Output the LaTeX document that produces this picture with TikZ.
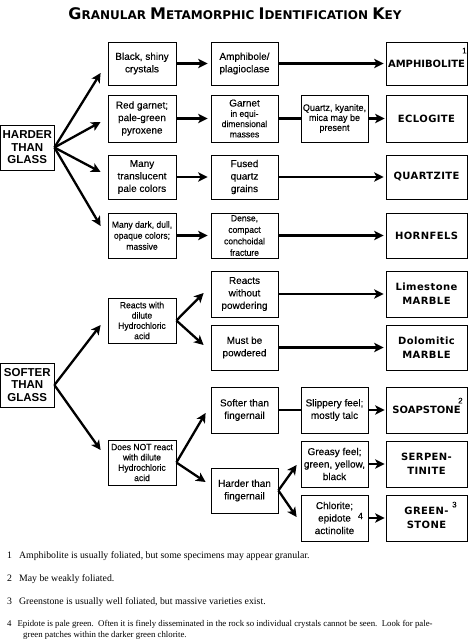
\documentclass[tikz,border=0pt]{standalone}
\usepackage{fontspec}
\setmainfont{Liberation Sans}
\newfontfamily\boxf{Liberation Sans}[FakeBold=0.2]
\newfontfamily\boxn{Liberation Sans}[FakeStretch=0.95,FakeBold=0.2]
\newfontfamily\rockf{DejaVu Sans}[LetterSpace=4]
\newfontfamily\rockt{DejaVu Sans}
\newfontfamily\titlef{DejaVu Sans}
\newfontfamily\notef{Liberation Serif}
\usetikzlibrary{arrows.meta,calc}
\newcommand{\smf}{\boxn\fontsize{9}{10.3}\selectfont}
\newcommand{\nmf}{\boxf\fontsize{10}{12.5}\selectfont}
\begin{document}
\begin{tikzpicture}[x=1pt,y=-1pt,
  box/.style={draw,line width=0.8pt,inner sep=0pt,align=center,font=\nmf},
  smallbox/.style={box,font=\smf},
  hbox/.style={box,font=\fontsize{11.5}{12.5}\selectfont\bfseries},
  rock/.style={box,font=\rockf\bfseries\fontsize{10}{14}\selectfont},
  rockt/.style={box,font=\rockt\bfseries\fontsize{10}{14}\selectfont},
  arr/.style={line width=2.3pt,-{Stealth[length=9.5pt,width=9.5pt,inset=2.5pt]}},
  ln/.style={line width=2.3pt},
  sup/.style={inner sep=0pt,font=\boxf\fontsize{8}{8}\selectfont},
  note/.style={inner sep=0pt,anchor=base west,align=left,font=\notef\fontsize{9.8}{11}\selectfont}]
\useasboundingbox (0,0) rectangle (470,640);
% title
\node[inner sep=0pt,font=\titlef\bfseries] (title) at (235,14)
 {{\fontsize{16}{16}\selectfont G}{\fontsize{12}{12}\selectfont RANULAR }{\fontsize{16}{16}\selectfont M}{\fontsize{12}{12}\selectfont ETAMORPHIC }{\fontsize{16}{16}\selectfont I}{\fontsize{12}{12}\selectfont DENTIFICATION }{\fontsize{16}{16}\selectfont K}{\fontsize{12}{12}\selectfont EY}};
% left boxes
\node[hbox,minimum width=53.5,minimum height=45] (hg) at (27.25,147.5) {HARDER\\THAN\\GLASS};
\node[hbox,minimum width=53.5,minimum height=44] (sg) at (27.25,385) {SOFTER\\THAN\\GLASS};
% harder branch
\node[box,minimum width=68,minimum height=43] (bs) at (142,63.5) {Black, shiny\\crystals};
\node[box,minimum width=67,minimum height=43] (am) at (244.5,63.5) {Amphibole/\\plagioclase};
\node[rockt,minimum width=81,minimum height=43] (amph) at (426.5,63.5) {AMPHIBOLITE};
\node[box,minimum width=68,minimum height=47] (rg) at (142,118.5) {Red garnet;\\pale-green\\pyroxene};
\node[smallbox,minimum width=67,minimum height=47] (ga) at (244.5,118.5) {{\nmf Garnet}\\in equi-\\dimensional\\masses};
\node[smallbox,font=\boxn\fontsize{9.5}{10}\selectfont,minimum width=67,minimum height=47] (qk) at (334.5,118.5) {Quartz, kyanite,\\mica may be\\present};
\node[rock,minimum width=81,minimum height=47] (ec) at (426.5,118.5) {ECLOGITE};
\node[box,minimum width=68,minimum height=44] (mt) at (142,177) {Many\\translucent\\pale colors};
\node[box,minimum width=67,minimum height=44] (fq) at (244.5,177) {Fused\\quartz\\grains};
\node[rock,minimum width=81,minimum height=44] (qz) at (426.5,177) {QUARTZITE};
\node[smallbox,font=\boxn\fontsize{9}{11}\selectfont,minimum width=68,minimum height=45] (md) at (142,235.5) {Many dark, dull,\\opaque colors;\\massive};
\node[smallbox,font=\boxn\fontsize{9}{11.5}\selectfont,minimum width=67,minimum height=45] (dc) at (244.5,235.5) {Dense,\\compact\\conchoidal\\fracture};
\node[rock,minimum width=81,minimum height=45] (hf) at (426.5,235.5) {HORNFELS};
% softer branch
\node[smallbox,minimum width=68,minimum height=45] (rd) at (142,320.5) {Reacts with\\dilute\\Hydrochloric\\acid};
\node[box,minimum width=67,minimum height=46] (rw) at (244.5,294) {Reacts\\without\\powdering};
\node[box,minimum width=67,minimum height=45] (mp) at (244.5,347.5) {Must be\\powdered};
\node[rock,minimum width=81,minimum height=46] (lm) at (426.5,294) {Limestone\\MARBLE};
\node[rock,minimum width=81,minimum height=45] (dm) at (426.5,347.5) {Dolomitic\\MARBLE};
\node[smallbox,minimum width=68,minimum height=45] (dn) at (142,462.5) {Does NOT react\\with dilute\\Hydrochloric\\acid};
\node[box,minimum width=67,minimum height=46] (sf) at (244.5,410) {Softer than\\fingernail};
\node[box,minimum width=67,minimum height=46] (sl) at (334.5,410) {Slippery feel;\\mostly talc};
\node[rockt,minimum width=81,minimum height=46] (sp) at (426.5,410) {SOAPSTONE};
\node[box,minimum width=67,minimum height=45] (hn) at (244.5,490.5) {Harder than\\fingernail};
\node[box,minimum width=67,minimum height=46] (gr) at (334.5,464) {Greasy feel;\\green, yellow,\\black};
\node[box,minimum width=67,minimum height=46,text width=60,align=center] (ch) at (334.5,518) {Chlorite;\\epidote\\actinolite};
\node[rock,minimum width=81,minimum height=46] (gs) at (426.5,518) {GREEN-\\STONE};
\node[rock,minimum width=81,minimum height=46] (se) at (426.5,464) {SERPEN-\\TINITE};
% superscripts
\node[sup] (n1) at ($(amph.north east)+(-3,9)$) {1};
\node[sup] (n2) at ($(sp.north east)+(-7,14)$) {2};
\node[sup] (n3) at ($(gs.north east)+(-13,10)$) {3};
\node[sup,font=\boxf\fontsize{9}{9}\selectfont] (n4) at ($(ch.east)+(-8,-2)$) {4};
% connectors: harder
\draw[arr] (hg.east) -- ($(bs.west)+(-7,9.5)$);
\draw[arr] (hg.east) -- ($(rg.west)+(-7,3.5)$);
\draw[arr] (hg.east) -- ($(mt.west)+(-7,-5)$);
\draw[arr] (hg.east) -- ($(md.west)+(-7,-9.5)$);
\draw[arr] (bs.east) -- ($(am.west)+(-3,0)$);
\draw[arr] (am.east) -- ($(amph.west)+(-2,0)$);
\draw[arr] (rg.east) -- ($(ga.west)+(-3,0)$);
\draw[ln] (ga.east) -- (qk.west);
\draw[arr] (qk.east) -- ($(ec.west)+(-1,0)$);
\draw[arr] (mt.east) -- ($(fq.west)+(-3,0)$);
\draw[arr] (fq.east) -- ($(qz.west)+(-2,0)$);
\draw[arr] (md.east) -- ($(dc.west)+(-3,0)$);
\draw[arr] (dc.east) -- ($(hf.west)+(-2,0)$);
% connectors: softer
\draw[arr] (sg.east) -- ($(rd.west)+(-7,4.5)$);
\draw[arr] (sg.east) -- ($(dn.west)+(-7,-12.5)$);
\draw[arr] (rd.east) -- ($(rw.west)+(-7,-1)$);
\draw[arr] (rd.east) -- ($(mp.west)+(-7,-2.5)$);
\draw[arr] (rw.east) -- ($(lm.west)+(-2,0)$);
\draw[arr] (mp.east) -- ($(dm.west)+(-2,0)$);
\draw[arr] (dn.east) -- ($(sf.west)+(-5,3)$);
\draw[arr] (dn.east) -- ($(hn.west)+(-5,-8.5)$);
\draw[ln] (sf.east) -- (sl.west);
\draw[arr] (sl.east) -- ($(sp.west)+(-1,0)$);
\draw[arr] (hn.east) -- ($(gr.west)+(-4,1)$);
\draw[arr] (hn.east) -- ($(ch.west)+(-4,-1)$);
\draw[arr] (gr.east) -- ($(se.west)+(-1,0)$);
\draw[arr] (ch.east) -- ($(gs.west)+(-1,0)$);
% footnotes
\node[note] (f1) at (7,558) {1\hspace{7pt}Amphibolite is usually foliated, but some specimens may appear granular.};
\node[note] (f2) at (7,581) {2\hspace{7pt}May be weakly foliated.};
\node[note] (f3) at (7,604) {3\hspace{7pt}Greenstone is usually well foliated, but massive varieties exist.};
\node[note,font=\notef\fontsize{8.8}{11}\selectfont] (f4) at (7,637) {4\hspace{6pt}Epidote is pale green.\ \ Often it is finely disseminated in the rock so individual crystals cannot be seen.\ \ Look for pale-\\\hspace{16pt}green patches within the darker green chlorite.};
\end{tikzpicture}
\end{document}
